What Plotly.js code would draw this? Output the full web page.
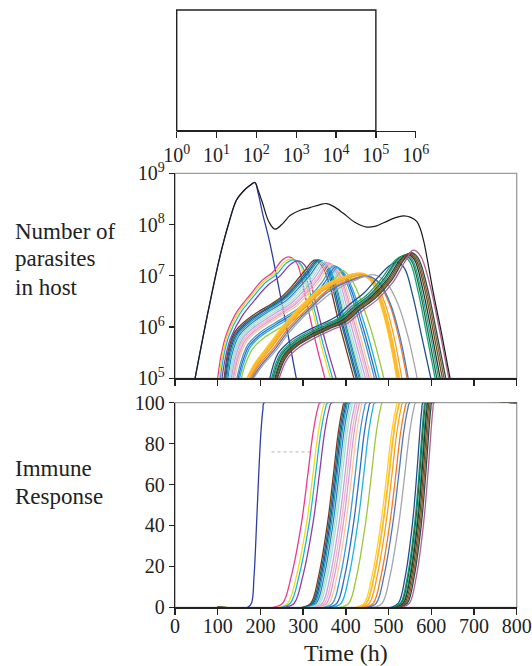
<!DOCTYPE html>
<html><head><meta charset="utf-8">
<script src="https://cdn.plot.ly/plotly-3.0.1.min.js"></script>
<style>html,body{margin:0;padding:0;background:#fff}#chart{width:532px;height:666px}</style>
</head><body><div id="chart"></div>
<script>
// ---------------- DATA ----------------
// Total parasite load (black), time in hours and log10(number of parasites)
const totalTimes = [47, 75, 105, 125, 144, 160, 175, 187, 195, 205, 220, 234, 250, 270, 293, 316, 340, 355, 372, 394, 420, 449, 470, 490, 515, 535, 552, 566, 575, 583, 605, 624, 644];
const totalLog10 = [5.0, 6.2, 7.37, 8.0, 8.48, 8.65, 8.76, 8.82, 8.66, 8.42, 8.05, 7.91, 8.0, 8.18, 8.28, 8.33, 8.39, 8.41, 8.35, 8.22, 8.05, 7.95, 7.97, 8.04, 8.13, 8.17, 8.14, 8.06, 7.9, 7.65, 6.66, 5.88, 5.0];

// Each strain: parasite curve (time, log10 count)
const strainParasiteTimes = [
  [47, 75, 105, 125, 144, 160, 175, 187, 195, 205, 221, 240, 260, 284],
  [100, 108, 120, 145, 175, 205, 228, 250, 266, 285, 305, 328, 351],
  [103, 111, 123, 148, 178, 209, 233, 256, 273, 292, 314, 339, 364],
  [106, 114, 126, 151, 181, 212, 237, 261, 278, 297, 319, 344, 369],
  [110, 118, 130, 156, 186, 218, 244, 270, 288, 306, 327, 352, 377],
  [115, 125, 140, 165, 195, 222, 248, 272, 300, 328, 350, 385, 419],
  [117, 127, 142, 167, 198, 225, 252, 276, 305, 333, 355, 390, 424],
  [119, 129, 144, 169, 200, 228, 255, 279, 309, 337, 359, 393, 427],
  [121, 131, 146, 171, 203, 231, 258, 282, 312, 340, 362, 397, 431],
  [124, 134, 149, 174, 206, 234, 262, 286, 316, 344, 366, 400, 434],
  [127, 137, 152, 177, 209, 237, 265, 289, 319, 347, 369, 403, 437],
  [129, 139, 154, 180, 212, 241, 269, 293, 323, 351, 373, 407, 441],
  [132, 142, 157, 183, 216, 245, 273, 297, 327, 355, 378, 412, 446],
  [135, 145, 160, 186, 220, 249, 277, 301, 331, 359, 382, 417, 451],
  [137, 147, 163, 189, 223, 252, 280, 304, 334, 362, 385, 421, 455],
  [140, 150, 166, 192, 226, 256, 284, 308, 338, 366, 389, 426, 460],
  [145, 155, 171, 197, 232, 262, 290, 314, 344, 372, 395, 433, 467],
  [148, 158, 174, 201, 236, 266, 294, 319, 349, 377, 400, 438, 472],
  [151, 161, 177, 204, 240, 270, 298, 323, 353, 381, 404, 444, 478],
  [155, 165, 182, 210, 247, 278, 307, 332, 363, 392, 415, 455, 489],
  [168, 187, 218, 250, 281, 312, 343, 390, 432, 457, 481, 501, 519],
  [172, 191, 222, 254, 285, 316, 347, 394, 437, 462, 485, 505, 523],
  [176, 195, 226, 258, 289, 320, 352, 399, 441, 467, 492, 513, 531],
  [178, 198, 230, 262, 294, 326, 358, 406, 450, 476, 502, 524, 543],
  [181, 201, 233, 265, 297, 329, 361, 409, 453, 479, 505, 527, 546],
  [184, 204, 236, 268, 300, 334, 368, 418, 466, 494, 522, 546, 567],
  [222, 241, 268, 303, 343, 377, 410, 443, 476, 503, 520, 537, 557, 578, 599],
  [226, 245, 272, 307, 347, 382, 416, 451, 486, 515, 532, 549, 569, 589, 609],
  [229, 248, 275, 310, 350, 385, 420, 455, 490, 519, 536, 553, 573, 593, 613],
  [231, 250, 277, 312, 352, 388, 423, 458, 493, 522, 539, 556, 576, 597, 617],
  [234, 253, 280, 315, 355, 391, 426, 461, 497, 526, 543, 560, 580, 601, 621],
  [236, 255, 282, 318, 358, 394, 429, 464, 500, 529, 546, 563, 584, 605, 626],
  [238, 257, 284, 320, 360, 397, 432, 467, 503, 532, 549, 566, 587, 609, 630],
  [240, 259, 286, 322, 362, 399, 435, 470, 506, 535, 552, 569, 590, 612, 634],
  [244, 263, 290, 326, 366, 403, 439, 474, 510, 540, 557, 574, 596, 619, 641]
];
const strainParasiteLog10 = [
  [5.0, 6.2, 7.37, 8.0, 8.48, 8.65, 8.76, 8.82, 8.6, 8.22, 7.68, 6.9, 6.05, 5.0],
  [5.0, 5.45, 5.85, 6.3, 6.62, 6.92, 7.06, 7.3, 7.37, 7.25, 6.6, 5.75, 5.0],
  [5.0, 5.45, 5.85, 6.28, 6.6, 6.9, 7.04, 7.27, 7.33, 7.22, 6.6, 5.75, 5.0],
  [5.0, 5.43, 5.82, 6.25, 6.57, 6.87, 7.02, 7.25, 7.31, 7.2, 6.58, 5.75, 5.0],
  [5.0, 5.4, 5.78, 6.2, 6.52, 6.82, 6.98, 7.22, 7.29, 7.18, 6.55, 5.72, 5.0],
  [5.0, 5.55, 5.9, 6.12, 6.3, 6.43, 6.58, 6.78, 7.06, 7.31, 7.1, 6.05, 5.0],
  [5.0, 5.55, 5.88, 6.1, 6.28, 6.42, 6.57, 6.77, 7.05, 7.31, 7.1, 6.05, 5.0],
  [5.0, 5.53, 5.86, 6.08, 6.27, 6.41, 6.56, 6.76, 7.04, 7.31, 7.1, 6.05, 5.0],
  [5.0, 5.5, 5.84, 6.06, 6.25, 6.4, 6.55, 6.75, 7.03, 7.3, 7.1, 6.05, 5.0],
  [5.0, 5.48, 5.82, 6.04, 6.23, 6.38, 6.53, 6.73, 7.01, 7.29, 7.08, 6.05, 5.0],
  [5.0, 5.46, 5.8, 6.02, 6.21, 6.36, 6.51, 6.71, 7.0, 7.28, 7.07, 6.05, 5.0],
  [5.0, 5.44, 5.78, 6.0, 6.19, 6.34, 6.49, 6.69, 6.98, 7.27, 7.06, 6.05, 5.0],
  [5.0, 5.42, 5.76, 5.98, 6.17, 6.32, 6.47, 6.67, 6.96, 7.26, 7.05, 6.05, 5.0],
  [5.0, 5.4, 5.74, 5.96, 6.15, 6.3, 6.45, 6.65, 6.94, 7.25, 7.04, 6.05, 5.0],
  [5.0, 5.38, 5.72, 5.94, 6.13, 6.28, 6.43, 6.63, 6.92, 7.24, 7.03, 6.05, 5.0],
  [5.0, 5.36, 5.7, 5.92, 6.11, 6.26, 6.41, 6.61, 6.9, 7.22, 7.01, 6.05, 5.0],
  [5.0, 5.34, 5.66, 5.88, 6.07, 6.22, 6.37, 6.57, 6.87, 7.2, 6.99, 6.05, 5.0],
  [5.0, 5.32, 5.64, 5.86, 6.05, 6.2, 6.35, 6.55, 6.85, 7.18, 6.97, 6.05, 5.0],
  [5.0, 5.3, 5.62, 5.84, 6.03, 6.18, 6.33, 6.53, 6.83, 7.16, 6.95, 6.05, 5.0],
  [5.0, 5.28, 5.58, 5.8, 5.99, 6.14, 6.29, 6.49, 6.79, 7.1, 6.9, 6.05, 5.0],
  [5.0, 5.3, 5.64, 6.0, 6.29, 6.55, 6.78, 6.97, 7.05, 6.92, 6.45, 5.8, 5.0],
  [5.0, 5.29, 5.62, 5.98, 6.27, 6.53, 6.76, 6.95, 7.03, 6.9, 6.45, 5.8, 5.0],
  [5.0, 5.28, 5.6, 5.96, 6.25, 6.51, 6.74, 6.93, 7.02, 6.89, 6.45, 5.8, 5.0],
  [5.0, 5.27, 5.58, 5.94, 6.23, 6.49, 6.72, 6.91, 7.0, 6.87, 6.45, 5.8, 5.0],
  [5.0, 5.25, 5.56, 5.92, 6.21, 6.47, 6.7, 6.9, 6.99, 6.86, 6.44, 5.8, 5.0],
  [5.0, 5.24, 5.54, 5.9, 6.19, 6.45, 6.68, 6.9, 7.02, 6.88, 6.45, 5.8, 5.0],
  [5.0, 5.48, 5.72, 5.9, 6.06, 6.2, 6.45, 6.67, 6.98, 7.2, 7.26, 7.15, 6.6, 5.8, 5.0],
  [5.0, 5.46, 5.7, 5.88, 6.04, 6.17, 6.42, 6.64, 6.97, 7.3, 7.38, 7.28, 6.7, 5.86, 5.0],
  [5.0, 5.45, 5.68, 5.86, 6.02, 6.15, 6.4, 6.62, 6.95, 7.3, 7.4, 7.3, 6.72, 5.87, 5.0],
  [5.0, 5.44, 5.67, 5.85, 6.01, 6.14, 6.39, 6.61, 6.94, 7.3, 7.41, 7.31, 6.73, 5.88, 5.0],
  [5.0, 5.43, 5.66, 5.84, 6.0, 6.13, 6.38, 6.6, 6.93, 7.3, 7.42, 7.32, 6.74, 5.88, 5.0],
  [5.0, 5.42, 5.65, 5.83, 5.99, 6.12, 6.37, 6.59, 6.92, 7.3, 7.43, 7.33, 6.76, 5.9, 5.0],
  [5.0, 5.41, 5.64, 5.82, 5.98, 6.11, 6.36, 6.58, 6.91, 7.3, 7.44, 7.34, 6.78, 5.9, 5.0],
  [5.0, 5.4, 5.63, 5.81, 5.97, 6.1, 6.35, 6.57, 6.9, 7.3, 7.45, 7.35, 6.8, 5.92, 5.0],
  [5.0, 5.38, 5.6, 5.78, 5.94, 6.07, 6.32, 6.54, 6.87, 7.3, 7.5, 7.4, 6.85, 5.95, 5.0]
];

// Immune response (%) : times at which each strain's curve reaches the levels below
const immuneLevels = [0, 0, 2, 15, 41, 65, 85, 97, 100, 100];
const strainImmuneTimes = [
  [100, 170, 179, 185, 191, 196, 201, 206, 209, 800],
  [100, 230, 252, 272, 296, 311, 323, 334, 340, 800],
  [100, 242, 264, 284, 308, 323, 335, 346, 352, 800],
  [100, 248, 270, 290, 314, 329, 341, 352, 358, 800],
  [100, 257, 279, 299, 323, 338, 350, 361, 367, 800],
  [100, 298, 318, 336, 357, 371, 382, 392, 397, 800],
  [100, 301, 321, 339, 360, 374, 385, 395, 400, 800],
  [100, 304, 324, 342, 363, 377, 388, 398, 403, 800],
  [100, 307, 327, 345, 366, 380, 391, 401, 406, 800],
  [100, 311, 331, 349, 370, 384, 395, 405, 410, 800],
  [100, 315, 335, 353, 374, 388, 399, 409, 414, 800],
  [100, 319, 339, 357, 378, 392, 403, 413, 418, 800],
  [100, 325, 345, 363, 384, 398, 409, 419, 424, 800],
  [100, 330, 350, 368, 389, 403, 414, 424, 429, 800],
  [100, 335, 355, 373, 394, 408, 419, 429, 434, 800],
  [100, 341, 361, 379, 400, 414, 425, 435, 440, 800],
  [100, 349, 369, 387, 408, 422, 433, 443, 448, 800],
  [100, 359, 379, 397, 418, 432, 443, 453, 458, 800],
  [100, 369, 389, 407, 428, 442, 453, 463, 468, 800],
  [100, 387, 407, 425, 446, 460, 471, 481, 486, 800],
  [100, 423, 443, 461, 482, 496, 507, 517, 522, 800],
  [100, 428, 448, 466, 487, 501, 512, 522, 527, 800],
  [100, 435, 455, 473, 494, 508, 519, 529, 534, 800],
  [100, 444, 464, 482, 503, 517, 528, 538, 543, 800],
  [100, 451, 471, 489, 510, 524, 535, 545, 550, 800],
  [100, 465, 485, 503, 524, 538, 549, 559, 564, 800],
  [100, 506, 523, 539, 556, 566, 573, 578, 581, 800],
  [100, 511, 528, 544, 561, 571, 578, 583, 586, 800],
  [100, 513, 530, 546, 563, 573, 580, 585, 588, 800],
  [100, 516, 533, 549, 566, 576, 583, 588, 591, 800],
  [100, 518, 535, 551, 568, 578, 585, 590, 593, 800],
  [100, 521, 538, 554, 571, 581, 588, 593, 596, 800],
  [100, 524, 541, 557, 574, 584, 591, 596, 599, 800],
  [100, 527, 544, 560, 577, 587, 594, 599, 602, 800],
  [100, 532, 549, 565, 582, 592, 599, 604, 607, 800]
];
const dottedTimes = [226, 324];
const dottedLevel = [76, 76];

const xTickVals = [0, 100, 200, 300, 400, 500, 600, 700, 800];
const immuneTickVals = [0, 20, 40, 60, 80, 100];
const parasiteTickVals = [1e5, 1e6, 1e7, 1e8, 1e9];
const parasiteTickText = ['10<sup>5</sup>', '10<sup>6</sup>', '10<sup>7</sup>', '10<sup>8</sup>', '10<sup>9</sup>'];
const topTickVals = [1, 10, 100, 1000, 10000, 100000, 1000000];
const topTickText = ['10<sup>0</sup>', '10<sup>1</sup>', '10<sup>2</sup>', '10<sup>3</sup>', '10<sup>4</sup>', '10<sup>5</sup>', '10<sup>6</sup>'];

// ---------------- STYLES ----------------
const strainColors = ['#2c3ea3', '#ec3a8e', '#efdc1a', '#19b4e6', '#8d3fa6',
  '#7b3a1c', '#1b6e80', '#1f4fa0', '#16a3a6', '#2d7fd2', '#b7e1b2', '#a7dbe8', '#c5a3da', '#f3b2c7', '#d7a1cc', '#f9c79c', '#3a9ad8', '#2e6ec2', '#22b2e2', '#9cc83c',
  '#ffd21f', '#fdb933', '#f7a21f', '#ee7b28', '#4e78c4', '#a5a5ab',
  '#1d4f8e', '#14a07e', '#1d6b3a', '#2a9c90', '#1f3d26', '#6c4a1e', '#8a5a2e', '#2c4a4c', '#b25f90'];
const strainLineWidths = strainColors.map((c, i) => i === 21 ? 3.5 : 1.3);

const W = 532, H = 666;
const FONT = '"Liberation Serif", "Times New Roman", Times, serif';
const xDom = [175 / W, 516.7 / W];

const traces = [];
traces.push({x: [], y: [], xaxis: 'x3', yaxis: 'y3', type: 'scatter', mode: 'lines', showlegend: false, hoverinfo: 'skip'});

strainParasiteTimes.forEach((ts, i) => {
  traces.push({
    x: ts, y: strainParasiteLog10[i].map(v => Math.pow(10, v)),
    xaxis: 'x2', yaxis: 'y2', type: 'scatter', mode: 'lines',
    line: {color: strainColors[i], width: strainLineWidths[i], shape: 'spline', smoothing: 1},
    showlegend: false, hoverinfo: 'skip'
  });
});
traces.push({
  x: totalTimes, y: totalLog10.map(v => Math.pow(10, v)),
  xaxis: 'x2', yaxis: 'y2', type: 'scatter', mode: 'lines',
  line: {color: '#1a1a1a', width: 1.2, shape: 'spline', smoothing: 1},
  showlegend: false, hoverinfo: 'skip'
});
traces.push({
  x: dottedTimes, y: dottedLevel, xaxis: 'x', yaxis: 'y', type: 'scatter', mode: 'lines',
  line: {color: '#c4c4c4', width: 1.2, dash: 'dot'}, showlegend: false, hoverinfo: 'skip'
});
strainImmuneTimes.forEach((ts, i) => {
  traces.push({
    x: ts, y: immuneLevels,
    xaxis: 'x', yaxis: 'y', type: 'scatter', mode: 'lines',
    line: {color: strainColors[i], width: strainLineWidths[i] > 2 ? 1.8 : 1.3, shape: 'spline', smoothing: 1},
    showlegend: false, hoverinfo: 'skip'
  });
});

const axCommon = {
  showgrid: false, zeroline: false, showline: true, linecolor: '#222', linewidth: 1.3,
  ticks: 'outside', ticklen: 6, tickwidth: 1.3, tickcolor: '#222',
  tickfont: {family: FONT, size: 20, color: '#222'}, fixedrange: true
};

const layout = {
  width: W, height: H, margin: {l: 0, r: 0, t: 0, b: 0},
  paper_bgcolor: '#fff', plot_bgcolor: '#fff', showlegend: false,
  font: {family: FONT, color: '#222'},
  xaxis: Object.assign({}, axCommon, {domain: xDom, anchor: 'y', range: [0, 800], tickvals: xTickVals, ticklabelstandoff: -6}),
  yaxis: Object.assign({}, axCommon, {domain: [1 - 607.3 / H, 1 - 402.7 / H], anchor: 'x', range: [0, 100], tickvals: immuneTickVals, ticklen: 5}),
  xaxis2: Object.assign({}, axCommon, {domain: xDom, anchor: 'y2', range: [0, 800], tickvals: xTickVals, showticklabels: false}),
  yaxis2: Object.assign({}, axCommon, {domain: [1 - 378.3 / H, 1 - 173.3 / H], anchor: 'x2', type: 'log', range: [5, 9], tickvals: parasiteTickVals, ticktext: parasiteTickText, ticklen: 5}),
  xaxis3: Object.assign({}, axCommon, {domain: [176.7 / W, 415.7 / W], anchor: 'y3', type: 'log', range: [0, 6], tickvals: topTickVals, ticktext: topTickText}),
  yaxis3: {domain: [1 - 130.7 / H, 1 - 10 / H], anchor: 'x3', range: [0, 1], visible: false, fixedrange: true},
  shapes: [
    {type: 'rect', xref: 'x3 domain', yref: 'y3 domain', x0: 0, x1: 5 / 6, y0: 0, y1: 1, line: {color: '#222', width: 1.4}},
    {type: 'rect', xref: 'x2 domain', yref: 'y2 domain', x0: 0, x1: 1, y0: 0, y1: 1, layer: 'below', line: {color: '#9c9c9c', width: 1.3}},
    {type: 'rect', xref: 'x domain', yref: 'y domain', x0: 0, x1: 1, y0: 0, y1: 1, layer: 'below', line: {color: '#9c9c9c', width: 1.3}}
  ],
  annotations: [
    {text: 'Number of', x: 13 / W, y: 1 - 231 / H},
    {text: 'parasites', x: 13 / W, y: 1 - 259 / H},
    {text: 'in host', x: 13 / W, y: 1 - 287 / H},
    {text: 'Immune', x: 13 / W, y: 1 - 468 / H},
    {text: 'Response', x: 13 / W, y: 1 - 496 / H}
  ].map(a => Object.assign({xref: 'paper', yref: 'paper', xanchor: 'left', yanchor: 'middle', showarrow: false, font: {family: FONT, size: 23, color: '#222'}}, a))
   .concat([{text: 'Time (h)', xref: 'paper', yref: 'paper', x: 346 / W, y: 1 - 653 / H, xanchor: 'center', yanchor: 'middle', showarrow: false, font: {family: FONT, size: 24, color: '#222'}}])
};

Plotly.newPlot('chart', traces, layout, {staticPlot: true, displayModeBar: false});
</script></body></html>
